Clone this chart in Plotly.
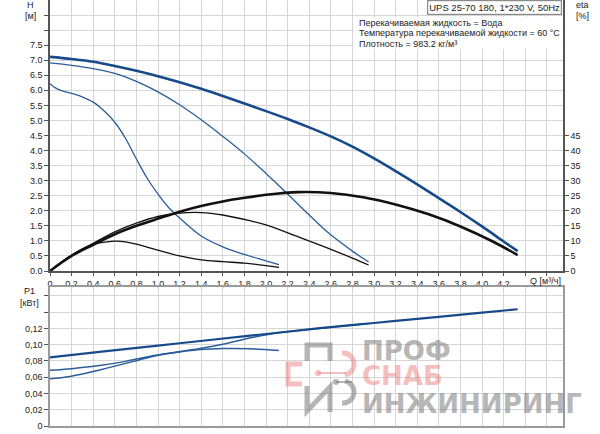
import numpy as np
import plotly.graph_objects as go

# ── Data ───────────────────────────────────────────────────
# H curves [m] vs Q [m3/h]
q_h1 = [0, 0.2, 0.4, 0.6, 0.8, 1.0, 1.2, 1.4, 1.6, 1.8, 2.0, 2.2, 2.4, 2.6, 2.8,
        3.0, 3.2, 3.4, 3.6, 3.8, 4.0, 4.2, 4.33]
h1 = [7.11, 7.04, 6.95, 6.81, 6.65, 6.47, 6.27, 6.05, 5.81, 5.56, 5.31, 5.05, 4.77,
      4.47, 4.13, 3.74, 3.32, 2.88, 2.42, 1.96, 1.48, 0.98, 0.66]
q_h2 = [0, 0.2, 0.4, 0.6, 0.8, 1.0, 1.2, 1.4, 1.6, 1.8, 2.0, 2.2, 2.4, 2.6, 2.8, 2.95]
h2 = [6.91, 6.83, 6.72, 6.56, 6.30, 5.95, 5.52, 5.02, 4.47, 3.89, 3.24, 2.56, 1.86,
      1.20, 0.66, 0.30]
q_h3 = [0, 0.05, 0.1, 0.2, 0.3, 0.4, 0.5, 0.6, 0.7, 0.8, 0.9, 1.0, 1.1, 1.2, 1.4,
        1.6, 1.8, 2.0, 2.12]
h3 = [6.22, 6.08, 6.00, 5.90, 5.78, 5.61, 5.32, 4.94, 4.40, 3.72, 3.08, 2.55, 2.10,
      1.76, 1.16, 0.80, 0.55, 0.34, 0.21]

# eta curves [%]
q_e1 = [0, 0.2, 0.4, 0.6, 0.8, 1.0, 1.2, 1.4, 1.6, 1.8, 2.0, 2.3, 2.6, 2.9, 3.2,
        3.5, 3.8, 4.1, 4.33]
e1 = [0, 5.0, 8.7, 12.2, 15.0, 17.4, 19.7, 21.6, 23.1, 24.3, 25.3, 26.2, 25.9,
      24.5, 22.1, 18.9, 14.8, 9.8, 5.3]
q_e2 = [0, 0.2, 0.4, 0.6, 0.8, 1.0, 1.2, 1.4, 1.6, 1.85, 2.0, 2.3, 2.6, 2.8, 2.95]
e2 = [0, 5.2, 9.2, 13.0, 15.9, 18.1, 19.2, 19.4, 18.6, 16.7, 15.3, 11.3, 7.2, 4.3, 2.0]
q_e3 = [0, 0.2, 0.4, 0.53, 0.6, 0.7, 0.8, 1.0, 1.2, 1.4, 1.6, 1.8, 2.0, 2.12]
e3 = [0, 5.3, 8.9, 9.7, 9.9, 9.7, 8.9, 6.9, 5.0, 3.7, 3.1, 2.6, 1.8, 1.2]

# P1 curves [kW]
q_p1 = [0, 0.5, 1.0, 1.5, 2.0, 2.5, 3.0, 3.5, 4.0, 4.33]
p1 = [0.0845, 0.0917, 0.0989, 0.1061, 0.1132, 0.1203, 0.1267, 0.1331, 0.1394, 0.1436]
q_p2 = [0, 0.2, 0.46, 0.7, 0.93, 1.15, 1.39, 1.6, 1.86, 2.1, 2.3, 2.6, 2.95]
p2 = [0.0685, 0.0705, 0.0743, 0.0795, 0.0858, 0.0905, 0.0953, 0.1005, 0.1085,
      0.1145, 0.1175, 0.1215, 0.1262]
q_p3 = [0, 0.185, 0.46, 0.8, 0.93, 1.2, 1.39, 1.6, 1.85, 2.12]
p3 = [0.0582, 0.061, 0.069, 0.0804, 0.085, 0.091, 0.094, 0.0953, 0.095, 0.093]

# ticks
q_ticks = [round(0.2 * i, 1) for i in range(24)]
q_text = [("0" if v == 0 else f"{v:.1f}".replace(".", ",")) for v in q_ticks]
q_text[22] = ""
q_text[23] = ""
h_ticks = [0.5 * i for i in range(18)]
h_text = [f"{v:.1f}" for v in h_ticks[:16]] + ["", ""]
eta_ticks = list(range(0, 50, 5))
p_ticks = [0, 0.02, 0.04, 0.06, 0.08, 0.10, 0.12, 0.14, 0.16]
p_text = ["0", "0,02", "0,04", "0,06", "0,08", "0,10", "0,12", "", ""]

info_lines = [
    "Перекачиваемая жидкость = Вода",
    "Температура перекачиваемой жидкости = 60 °C",
    "Плотность = 983.2 кг/м³",
]

BLUE = "#174a8b"
BLUE2 = "#2c5d9b"
BLACK = "#111111"
GRID = "#d6d6d6"
AXIS = "#555555"
FONT = "Liberation Sans"

# pixel -> paper (plot area 50..563 x 0..426)
def X(px):
    return (px - 50) / 513

def Y(py):
    return (426 - py) / 426


fig = go.Figure()

# H
fig.add_trace(go.Scatter(x=q_h3, y=h3, mode="lines", line=dict(color=BLUE2, width=1.3, shape="spline")))
fig.add_trace(go.Scatter(x=q_h2, y=h2, mode="lines", line=dict(color=BLUE2, width=1.3, shape="spline")))
fig.add_trace(go.Scatter(x=q_h1, y=h1, mode="lines", line=dict(color=BLUE, width=2.6, shape="spline")))
# eta
fig.add_trace(go.Scatter(x=q_e3, y=e3, mode="lines", yaxis="y2", line=dict(color=BLACK, width=1.3, shape="spline")))
fig.add_trace(go.Scatter(x=q_e2, y=e2, mode="lines", yaxis="y2", line=dict(color=BLACK, width=1.3, shape="spline")))
fig.add_trace(go.Scatter(x=q_e1, y=e1, mode="lines", yaxis="y2", line=dict(color=BLACK, width=2.6, shape="spline")))
# P1
fig.add_trace(go.Scatter(x=q_p3, y=p3, mode="lines", xaxis="x3", yaxis="y3", line=dict(color=BLUE2, width=1.5, shape="spline")))
fig.add_trace(go.Scatter(x=q_p2, y=p2, mode="lines", xaxis="x3", yaxis="y3", line=dict(color=BLUE2, width=1.5, shape="spline")))
fig.add_trace(go.Scatter(x=q_p1, y=p1, mode="lines", xaxis="x3", yaxis="y3", line=dict(color=BLUE, width=2.2, shape="spline")))

tickfont = dict(family=FONT, size=9, color="#222")
fig.update_layout(
    width=600, height=434,
    margin=dict(l=50, r=37, t=0, b=8),
    paper_bgcolor="white", plot_bgcolor="white",
    showlegend=False,
    xaxis=dict(range=[0, 4.75], domain=[0, 1], anchor="y", tickvals=q_ticks, ticktext=q_text,
               showgrid=True, gridcolor=GRID, gridwidth=1, zeroline=False,
               showline=True, linecolor=AXIS, linewidth=1.5, ticks="outside", ticklen=3,
               tickcolor=AXIS, tickfont=tickfont),
    yaxis=dict(range=[0, 9], domain=[155 / 426, 1], anchor="x", tickvals=h_ticks, ticktext=h_text,
               showgrid=True, gridcolor=GRID, gridwidth=1, zeroline=False,
               showline=True, linecolor=AXIS, linewidth=1.5, ticks="outside", ticklen=4,
               tickcolor=AXIS, tickfont=tickfont),
    yaxis2=dict(range=[0, 90], overlaying="y", side="right", anchor="x", tickvals=eta_ticks,
                showgrid=False, zeroline=False, showline=True, linecolor=AXIS, linewidth=1.5,
                ticks="outside", ticklen=4, tickcolor=AXIS, tickfont=tickfont),
    xaxis3=dict(range=[0, 4.75], domain=[0, 1], anchor="y3", tickvals=q_ticks, showticklabels=False,
                showgrid=True, gridcolor=GRID, gridwidth=1, zeroline=False,
                showline=True, mirror=True, linecolor="#9a9a9a", linewidth=1.5, ticks=""),
    yaxis3=dict(range=[0, 0.171], domain=[0, 139 / 426], anchor="x3", tickvals=p_ticks, ticktext=p_text,
                showgrid=True, gridcolor=GRID, gridwidth=1, zeroline=False,
                showline=True, mirror=True, linecolor="#9a9a9a", linewidth=1.5,
                ticks="outside", ticklen=4, tickcolor=AXIS, tickfont=tickfont),
)

lab = dict(family=FONT, size=9, color="#222")
ann = [
    dict(text="H", x=X(30), y=Y(5)),
    dict(text="[м]", x=X(30), y=Y(16)),
    dict(text="eta", x=X(582), y=Y(5)),
    dict(text="[%]", x=X(582), y=Y(16)),
    dict(text="P1", x=X(29), y=Y(291)),
    dict(text="[кВт]", x=X(29), y=Y(303)),
    dict(text="Q [м³/ч]", x=X(545), y=Y(281)),
]
for a in ann:
    fig.add_annotation(xref="paper", yref="paper", showarrow=False, font=lab,
                       xanchor="center", yanchor="middle", **a)

# title box
fig.add_annotation(xref="paper", yref="paper", x=X(562), y=1.0, xanchor="right", yanchor="top",
                   text="UPS 25-70 180, 1*230 V, 50Hz", showarrow=False,
                   font=dict(family=FONT, size=9.5, color="#222"),
                   bgcolor="white", bordercolor="#8a8a8a", borderwidth=1.2, borderpad=1)

# fluid info on white background
fig.add_shape(type="rect", xref="paper", yref="paper", layer="above",
              x0=X(354), x1=X(562), y0=Y(49), y1=Y(17), fillcolor="white", line_width=0)
for i, line in enumerate(info_lines):
    fig.add_annotation(xref="paper", yref="paper", x=X(357), y=Y(23 + 10.3 * i),
                       xanchor="left", yanchor="middle", text=line, showarrow=False,
                       font=dict(family=FONT, size=9, color="#222"))

# watermark logo
GRAY_W = "rgba(120,120,120,0.55)"
PINK_W = "rgba(235,110,110,0.45)"


def pth(points):
    return "M " + " L ".join(f"{X(a):.4f},{Y(b):.4f}" for a, b in points)


fig.add_shape(type="path", xref="paper", yref="paper", layer="above",
              path=pth([(307, 361), (307, 345), (330, 345), (330, 361)]),
              line=dict(color=GRAY_W, width=5))
fig.add_shape(type="path", xref="paper", yref="paper", layer="above",
              path=pth([(307, 386), (307, 411), (330, 387), (330, 412)]),
              line=dict(color=GRAY_W, width=5))
fig.add_shape(type="path", xref="paper", yref="paper", layer="above",
              path=pth([(302, 364), (288, 364), (288, 384), (302, 384)]),
              line=dict(color=PINK_W, width=5))
ang = np.radians(np.linspace(-80, 95, 20))
fig.add_shape(type="path", xref="paper", yref="paper", layer="above",
              path=pth([(343 + 11 * np.cos(t), 364 - 11 * np.sin(t)) for t in ang]),
              line=dict(color=PINK_W, width=5))
ang2 = np.radians(np.linspace(-95, 80, 20))
fig.add_shape(type="path", xref="paper", yref="paper", layer="above",
              path=pth([(343 + 11 * np.cos(t), 392 - 11 * np.sin(t)) for t in ang2]),
              line=dict(color=GRAY_W, width=5))
fig.add_shape(type="line", xref="paper", yref="paper", layer="above",
              x0=X(318), x1=X(346), y0=Y(373), y1=Y(373), line=dict(color=PINK_W, width=2))
fig.add_shape(type="circle", xref="paper", yref="paper", layer="above",
              x0=X(315), x1=X(321), y0=Y(376), y1=Y(370), fillcolor=PINK_W, line_width=0)
fig.add_shape(type="line", xref="paper", yref="paper", layer="above",
              x0=X(336), x1=X(352), y0=Y(382), y1=Y(382), line=dict(color=GRAY_W, width=2))
fig.add_shape(type="circle", xref="paper", yref="paper", layer="above",
              x0=X(333), x1=X(339), y0=Y(385), y1=Y(379), fillcolor=GRAY_W, line_width=0)

wm = [("ПРОФ", 351, GRAY_W), ("СНАБ", 376, PINK_W), ("ИНЖИНИРИНГ", 404, GRAY_W)]
for word, yc, col in wm:
    fig.add_annotation(xref="paper", yref="paper", x=X(360), y=Y(yc), xanchor="left",
                       yanchor="middle", text=f"<b>{word}</b>", showarrow=False, height=22,
                       font=dict(family="DejaVu Sans", size=26, color=col))

# page has a default 8px body margin; drop it so the figure sits at the top-left corner
fig.write_html("out.html", config={"displayModeBar": False},
               post_script="document.body.style.margin='0';")
